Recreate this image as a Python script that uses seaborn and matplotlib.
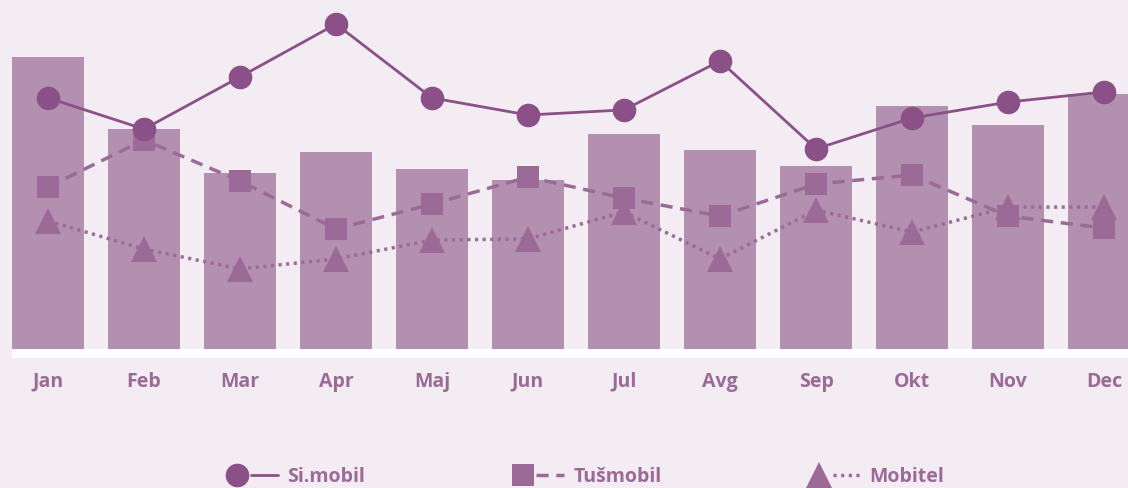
import numpy as np
import pandas as pd
import matplotlib
matplotlib.use("Agg")
import matplotlib.pyplot as plt
import seaborn as sns
from matplotlib.lines import Line2D
from matplotlib.legend_handler import HandlerTuple

# mesečni podatki (odčitani s slike)
months = ["Jan", "Feb", "Mar", "Apr", "Maj", "Jun", "Jul", "Avg", "Sep", "Okt", "Nov", "Dec"]
total = [97.3, 73.3, 58.7, 65.7, 60.0, 56.3, 71.7, 66.3, 61.0, 81.0, 74.7, 85.0]
simobil = [83.7, 73.3, 90.7, 108.3, 83.7, 78.0, 79.7, 96.0, 66.7, 77.0, 82.3, 85.7]
tusmobil = [54.0, 69.7, 56.0, 40.0, 48.3, 57.3, 50.3, 44.3, 55.0, 58.0, 44.3, 40.3]
mobitel = [42.7, 33.3, 26.7, 30.0, 36.3, 36.7, 45.7, 30.0, 46.3, 39.0, 47.3, 47.3]
series_names = ["Si.mobil", "Tušmobil", "Mobitel"]

BG = "#f3edf3"
BAR = "#b490b0"
DARK = "#8b5088"
MID = "#9b6a97"

sns.set_theme(style="white")
plt.rcParams["font.family"] = ["Open Sans", "DejaVu Sans"]

df = pd.DataFrame({"month": months, "total": total})
x = np.arange(len(months))

fig = plt.figure(figsize=(11.28, 4.88), dpi=100, facecolor=BG)
ax = fig.add_axes([12 / 1128, (488 - 358) / 488, 1 - 12 / 1128, 358 / 488])
ax.set_facecolor(BG)

sns.barplot(data=df, x="month", y="total", color=BAR, width=0.76,
            saturation=1, linewidth=0, edgecolor=BAR, ax=ax, zorder=1)

# crte za operaterje
sns.lineplot(x=x, y=simobil, color=DARK, linewidth=2, marker="o",
             markersize=17, markeredgewidth=0, ax=ax, zorder=4)
sns.lineplot(x=x, y=tusmobil, color=MID, linewidth=2.5, marker="s",
             markersize=16, markeredgewidth=0, dashes=(3.5, 2.2), ax=ax, zorder=3)
sns.lineplot(x=x, y=mobitel, color=MID, linewidth=2.5, marker="^",
             markersize=19, markeredgewidth=0, dashes=(0.9, 1.3), ax=ax, zorder=3)

ax.axhspan(-3, 0, color="white", zorder=2, lw=0)
ax.set_xlim(-0.375, 11.25)
ax.set_ylim(-3, 116.33)
ax.set_yticks([])
ax.set_xlabel("")
ax.set_ylabel("")
for s in ax.spines.values():
    s.set_visible(False)
ax.tick_params(axis="x", length=0, pad=10)
for lab in ax.get_xticklabels():
    lab.set_color(MID)
    lab.set_fontweight("bold")
    lab.set_fontsize(14)

# legenda: oznaka levo, crta desno
def handle(marker, color, ms, dashes=None):
    m = Line2D([], [], marker=marker, color=color, markersize=ms,
               markeredgewidth=0, linestyle="none")
    ln = Line2D([], [], color=color, linewidth=2.5 if dashes else 2)
    if dashes:
        ln.set_dashes(dashes)
    return (m, ln)

handles = [
    handle("o", DARK, 17),
    handle("s", MID, 16, (3.5, 2.2)),
    handle("^", MID, 19, (0.9, 1.3)),
]
leg = fig.legend(handles, series_names, loc="center", ncol=3,
                 bbox_to_anchor=(0.5177, 0.0225), frameon=False,
                 handler_map={tuple: HandlerTuple(ndivide=2, pad=0)},
                 handlelength=2.8, handletextpad=0.5, columnspacing=7.4,
                 borderaxespad=0, prop={"weight": "bold", "size": 14})
for t in leg.get_texts():
    t.set_color(MID)

fig.savefig("out.png", dpi=100, facecolor=BG)
